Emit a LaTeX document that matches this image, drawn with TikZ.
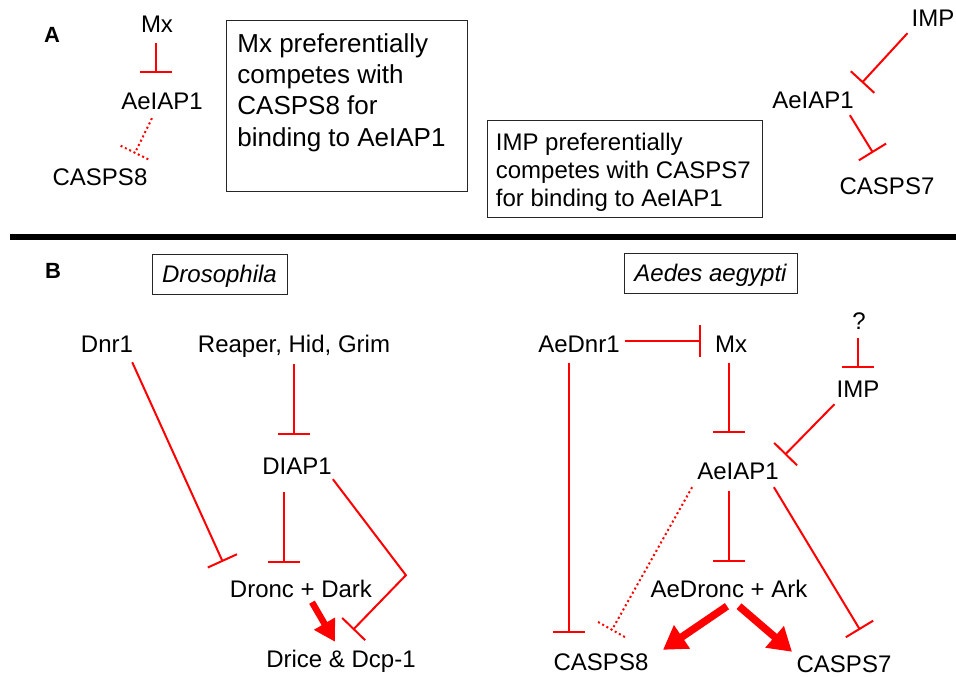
\documentclass[tikz,border=0pt]{standalone}
\usepackage{fontspec}
\setmainfont{Liberation Sans}
\usetikzlibrary{arrows.meta,calc}

\begin{document}
\begin{tikzpicture}[x=1pt,y=-1pt,
    lbl/.style={inner sep=0pt,text height=17pt,text depth=0pt,font=\fontsize{24}{28}\selectfont},
    panel/.style={inner sep=0pt,text height=16pt,text depth=0pt,font=\fontsize{22}{26}\selectfont\bfseries},
    species/.style={lbl,draw=black!85,line width=0.8pt,minimum width=#1,minimum height=40pt,font=\fontsize{24}{28}\selectfont\itshape},
    note/.style={draw=black!85,line width=0.8pt,anchor=north west},
    inh/.style={draw=red,line width=2pt,-{Bar[width=32pt]}},
    weakinh/.style={draw=red,line width=2pt,dash pattern=on 2pt off 2.8pt},
    act/.style={draw=red,line width=7.5pt,-{Triangle[length=23pt,width=27pt]}}]
  \useasboundingbox (0,0) rectangle (956,677);

  % panel A
  \node[panel] (labA) at (52,35) {A};
  \node[lbl] (mxA) at (157,24) {Mx};
  \node[lbl] (iapA) at (162,101) {AeIAP1};
  \node[lbl] (caspEightA) at (100,177) {CASPS8};
  \node[note,inner xsep=11pt,inner ysep=13pt] (mxNote) at (226,20)
    {\parbox[c][145pt][t]{219pt}{\fontsize{26}{31.3}\selectfont Mx preferentially\\competes with\\CASPS8 for\\binding to AeIAP1}};
  \node[note,inner xsep=8.5pt,inner ysep=13pt] (impNote) at (487,120)
    {\parbox[c][71pt][t]{258pt}{\fontsize{24}{28}\selectfont IMP preferentially\\competes with CASPS7\\for binding to AeIAP1}};
  \node[lbl] (impA) at (933,18) {IMP};
  \node[lbl] (iapAr) at (813,100) {AeIAP1};
  \node[lbl] (caspSevenA) at (887,186) {CASPS7};

  \path ([shift={(-1,10.5)}]mxA.south) edge[inh] ([shift={(-6,-19.5)}]iapA.north);
  \draw[weakinh] ([shift={(-10,8.5)}]iapA.south) coordinate (wA1)
    -- ([shift={(35,-15.5)}]caspEightA.north) coordinate (wA2);
  \draw[weakinh] ($(wA2)!16pt!90:(wA1)$) -- ($(wA2)!16pt!-90:(wA1)$);
  \path ([shift={(-4,6.5)}]impA.south west) edge[inh] ([shift={(8,-8.5)}]iapAr.north east);
  \path ([shift={(-4,6.5)}]iapAr.south east) edge[inh] ([shift={(-14,-24.5)}]caspSevenA.north);

  \draw[line width=6.5pt] (10,237) -- (956,237);

  % panel B
  \node[panel] (labB) at (53,270) {B};
  \node[species=135pt] (drosTitle) at (219.5,274) {Drosophila};
  \node[species=173pt] (aedesTitle) at (710.5,273) {Aedes aegypti};
  \node[lbl] (dnr) at (107,344) {Dnr1};
  \node[lbl] (rhg) at (294,344) {Reaper, Hid, Grim};
  \node[lbl] (diap) at (297,466) {DIAP1};
  \node[lbl] (dronc) at (301,589) {Dronc + Dark};
  \node[lbl] (drice) at (341,659) {Drice \& Dcp-1};
  \node[lbl] (aednr) at (579,344) {AeDnr1};
  \node[lbl] (mxB) at (731,344) {Mx};
  \node[lbl] (quest) at (859,321) {?};
  \node[lbl] (impB) at (858,389) {IMP};
  \node[lbl] (iapB) at (738,471) {AeIAP1};
  \node[lbl] (aedronc) at (729,589) {AeDronc + Ark};
  \node[lbl] (caspEight) at (601,662) {CASPS8};
  \node[lbl] (caspSeven) at (844,664) {CASPS7};

  % Drosophila
  \path ([shift={(0,11.5)}]rhg.south) edge[inh] ([shift={(-3,-22.5)}]diap.north);
  \path ([shift={(-13,17.5)}]diap.south) edge[inh] ([shift={(-17,-17.5)}]dronc.north);
  \path ([shift={(-1,9.5)}]dnr.south east) edge[inh] ([shift={(-7,-18.5)}]dronc.north west);
  \draw[inh] ([shift={(1,4.5)}]diap.south east) -- ++(73,96) -- ([shift={(12,-20.5)}]drice.north);
  \path ([shift={(11,4.5)}]dronc.south) edge[act,line width=6.5pt,-{Triangle[length=21pt,width=23pt]}] ([shift={(-6,-8.5)}]drice.north);

  % Aedes aegypti
  \path ([shift={(5,-3)}]aednr.east) edge[inh] ([shift={(-14,-3)}]mxB.west);
  \path ([shift={(-10,10.5)}]aednr.south) edge[inh] ([shift={(-32,-20.5)}]caspEight.north);
  \path ([shift={(-1,8.5)}]quest.south) edge[inh] ([shift={(0,-12.5)}]impB.north);
  \path ([shift={(-2,10.5)}]mxB.south) edge[inh] ([shift={(-9,-29.5)}]iapB.north);
  \path ([shift={(-2,6.5)}]impB.south west) edge[inh] ([shift={(6,-7.5)}]iapB.north east);
  \path ([shift={(-9,11.5)}]iapB.south) edge[inh] ([shift={(0,-18.5)}]aedronc.north);
  \draw[weakinh] ([shift={(-5,7.5)}]iapB.south west) coordinate (wB1)
    -- ([shift={(11,-23.5)}]caspEight.north) coordinate (wB2);
  \draw[weakinh] ($(wB2)!16pt!90:(wB1)$) -- ($(wB2)!16pt!-90:(wB1)$);
  \path ([shift={(-5,7.5)}]iapB.south east) edge[inh] ([shift={(16,-25.5)}]caspSeven.north);
  \path ([shift={(-2,8.5)}]aedronc.south) edge[act] ([shift={(62,-3.5)}]caspEight.north);
  \path ([shift={(10,8.5)}]aedronc.south) edge[act] ([shift={(-52,-3.5)}]caspSeven.north);
\end{tikzpicture}
\end{document}
